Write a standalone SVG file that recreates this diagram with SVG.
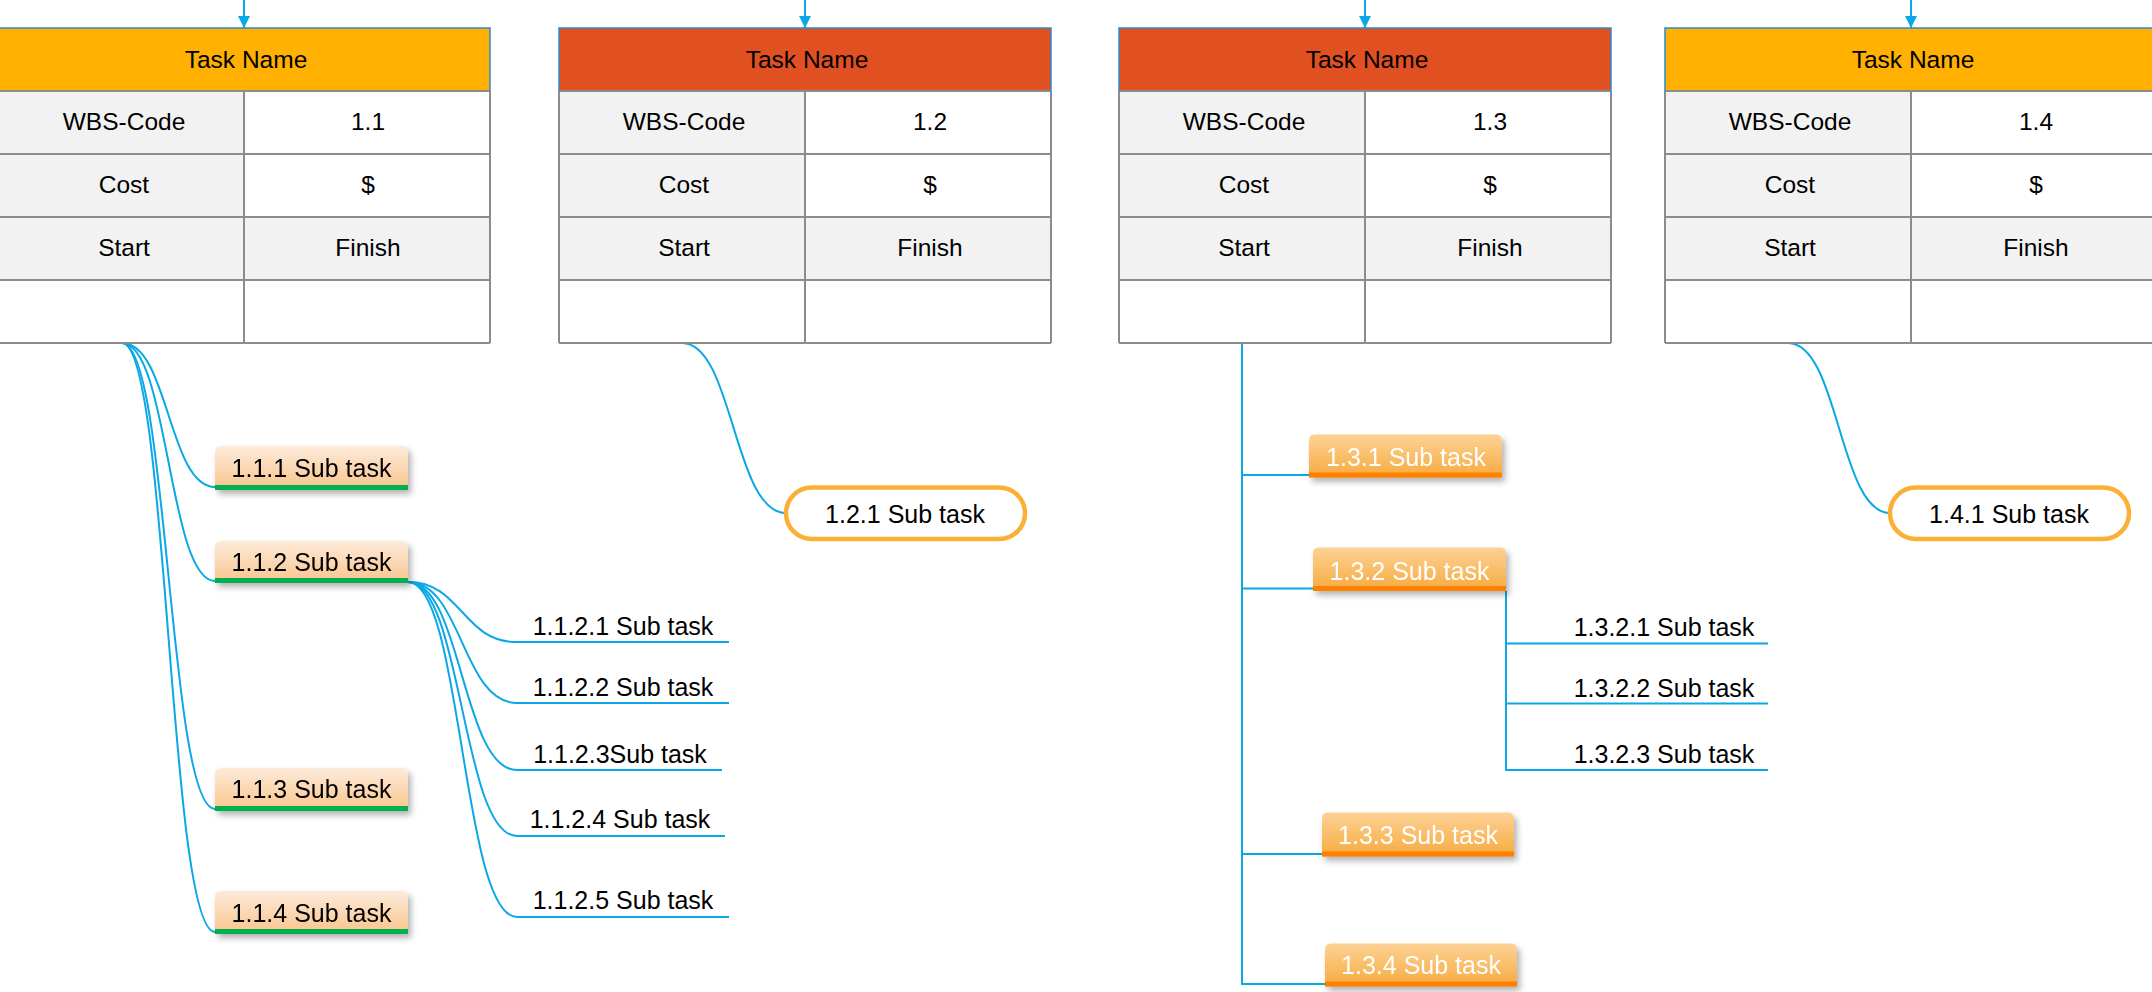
<svg xmlns="http://www.w3.org/2000/svg" width="2152" height="992" viewBox="0 0 2152 992">
<style>
text{font-family:"Liberation Sans",Arial,sans-serif;font-size:24.5px;fill:#000;text-anchor:middle}
.sub2{font-size:25px}
.bx{font-size:25px}
.wt{fill:#fff}
.hdrO{fill:#FFB000}
.hdrR{fill:#E15020}
.g{fill:#F2F2F2}
.w{fill:#fff}
.grid{stroke:#8C8C8C;stroke-width:2;fill:none}
.hb{stroke:#2A8AD4;stroke-width:1.5;fill:none}
.con{stroke:#0AA8E6;stroke-width:2;fill:none}
.pill{fill:#fff;stroke:#FBB034;stroke-width:4.5}
.pb{fill:url(#peach)}
.ob{fill:url(#orng)}
.gbar{fill:#00B050}
.obar{fill:#FF8000}
.sh{filter:url(#shadow)}
</style>
<defs>
<linearGradient id="peach" x1="0" y1="0" x2="0" y2="1"><stop offset="0" stop-color="#FDEBDA"/><stop offset="1" stop-color="#F9C48C"/></linearGradient>
<linearGradient id="orng" x1="0" y1="0" x2="0" y2="1"><stop offset="0" stop-color="#FDD296"/><stop offset="1" stop-color="#F6AA3E"/></linearGradient>
<filter id="shadow" x="-10%" y="-20%" width="130%" height="160%"><feDropShadow dx="3" dy="4" stdDeviation="3" flood-color="#000" flood-opacity="0.3"/></filter>
<marker id="arr" viewBox="0 0 12 12" refX="12" refY="6" markerWidth="12" markerHeight="12" markerUnits="userSpaceOnUse" orient="auto"><path d="M0,0 L12,6 L0,12 Z" fill="#0AA8E6"/></marker>
</defs>
<rect width="2152" height="992" fill="#fff"/>

<g id="connectors">
<path class="con" d="M244,0 V28" marker-end="url(#arr)"/>
<path class="con" d="M805,0 V28" marker-end="url(#arr)"/>
<path class="con" d="M1365,0 V28" marker-end="url(#arr)"/>
<path class="con" d="M1911,0 V28" marker-end="url(#arr)"/>
<path class="con" d="M122,343 C168.5,343 168.5,487 215,487"/>
<path class="con" d="M122,343 C168.5,343 168.5,581 215,581"/>
<path class="con" d="M122,343 C168.5,343 168.5,809 215,809"/>
<path class="con" d="M122,343 C168.5,343 168.5,932 215,932"/>
<path class="con" d="M408,582 C462,582 462,642 517,642 H729"/>
<path class="con" d="M408,582 C462,582 462,703 517,703 H729"/>
<path class="con" d="M408,582 C462,582 462,770 517,770 H722"/>
<path class="con" d="M408,582 C462,582 462,836 517,836 H725"/>
<path class="con" d="M408,582 C462,582 462,917 517,917 H729"/>
<path class="con" d="M682,343 C733.5,343 733.5,513 786,513"/>
<path class="con" d="M1788,343 C1839,343 1839,513 1890,513"/>
<path class="con" d="M1242,343 V984 H1325"/>
<path class="con" d="M1242,475 H1309"/>
<path class="con" d="M1242,588.5 H1313"/>
<path class="con" d="M1242,854 H1322"/>
<path class="con" d="M1506,591 V770 H1768"/>
<path class="con" d="M1506,643.5 H1768"/>
<path class="con" d="M1506,703.5 H1768"/>
</g>

<g id="task-1-1">
<rect class="hdrO" x="-2" y="28" width="492" height="63"/>
<rect class="g" x="-2" y="91" width="246" height="189"/>
<rect class="w" x="244" y="91" width="246" height="126"/>
<rect class="g" x="244" y="217" width="246" height="63"/>
<rect class="w" x="-2" y="280" width="492" height="63"/>
<path class="grid" d="M-2,91 H490 M-2,154 H490 M-2,217 H490 M-2,280 H490 M-2,343 H490 M244,91 V343 M-2,91 V343 M490,91 V343"/>
<path class="hb" d="M-2,91 V28 H490 V91"/>
<text x="246" y="68">Task Name</text>
<text x="124" y="130">WBS-Code</text><text x="368" y="130">1.1</text>
<text x="124" y="193">Cost</text><text x="368" y="193">$</text>
<text x="124" y="256">Start</text><text x="368" y="256">Finish</text>
</g>

<g id="task-1-2">
<rect class="hdrR" x="559" y="28" width="492" height="63"/>
<rect class="g" x="559" y="91" width="246" height="189"/>
<rect class="w" x="805" y="91" width="246" height="126"/>
<rect class="g" x="805" y="217" width="246" height="63"/>
<rect class="w" x="559" y="280" width="492" height="63"/>
<path class="grid" d="M559,91 H1051 M559,154 H1051 M559,217 H1051 M559,280 H1051 M559,343 H1051 M805,91 V343 M559,91 V343 M1051,91 V343"/>
<path class="hb" d="M559,91 V28 H1051 V91"/>
<text x="807" y="68">Task Name</text>
<text x="684" y="130">WBS-Code</text><text x="930" y="130">1.2</text>
<text x="684" y="193">Cost</text><text x="930" y="193">$</text>
<text x="684" y="256">Start</text><text x="930" y="256">Finish</text>
</g>

<g id="task-1-3">
<rect class="hdrR" x="1119" y="28" width="492" height="63"/>
<rect class="g" x="1119" y="91" width="246" height="189"/>
<rect class="w" x="1365" y="91" width="246" height="126"/>
<rect class="g" x="1365" y="217" width="246" height="63"/>
<rect class="w" x="1119" y="280" width="492" height="63"/>
<path class="grid" d="M1119,91 H1611 M1119,154 H1611 M1119,217 H1611 M1119,280 H1611 M1119,343 H1611 M1365,91 V343 M1119,91 V343 M1611,91 V343"/>
<path class="hb" d="M1119,91 V28 H1611 V91"/>
<text x="1367" y="68">Task Name</text>
<text x="1244" y="130">WBS-Code</text><text x="1490" y="130">1.3</text>
<text x="1244" y="193">Cost</text><text x="1490" y="193">$</text>
<text x="1244" y="256">Start</text><text x="1490" y="256">Finish</text>
</g>

<g id="task-1-4">
<rect class="hdrO" x="1665" y="28" width="492" height="63"/>
<rect class="g" x="1665" y="91" width="246" height="189"/>
<rect class="w" x="1911" y="91" width="246" height="126"/>
<rect class="g" x="1911" y="217" width="246" height="63"/>
<rect class="w" x="1665" y="280" width="492" height="63"/>
<path class="grid" d="M1665,91 H2157 M1665,154 H2157 M1665,217 H2157 M1665,280 H2157 M1665,343 H2157 M1911,91 V343 M1665,91 V343 M2157,91 V343"/>
<path class="hb" d="M1665,91 V28 H2157 V91"/>
<text x="1913" y="68">Task Name</text>
<text x="1790" y="130">WBS-Code</text><text x="2036" y="130">1.4</text>
<text x="1790" y="193">Cost</text><text x="2036" y="193">$</text>
<text x="1790" y="256">Start</text><text x="2036" y="256">Finish</text>
</g>

<g id="sub-1-1-1" class="sh">
<path class="pb" d="M215,490 V452 Q215,446 221,446 H402 Q408,446 408,452 V490 Z"/>
<rect class="gbar" x="215" y="485" width="193" height="5"/>
<text class="bx" x="311.5" y="477">1.1.1 Sub task</text>
</g>
<g id="sub-1-1-2" class="sh">
<path class="pb" d="M215,583 V547 Q215,541 221,541 H402 Q408,541 408,547 V583 Z"/>
<rect class="gbar" x="215" y="578" width="193" height="5"/>
<text class="bx" x="311.5" y="571">1.1.2 Sub task</text>
</g>
<g id="sub-1-1-3" class="sh">
<path class="pb" d="M215,811 V774 Q215,768 221,768 H402 Q408,768 408,774 V811 Z"/>
<rect class="gbar" x="215" y="806" width="193" height="5"/>
<text class="bx" x="311.5" y="798">1.1.3 Sub task</text>
</g>
<g id="sub-1-1-4" class="sh">
<path class="pb" d="M215,934 V897 Q215,891 221,891 H402 Q408,891 408,897 V934 Z"/>
<rect class="gbar" x="215" y="929" width="193" height="5"/>
<text class="bx" x="311.5" y="922">1.1.4 Sub task</text>
</g>

<g id="sub-1-1-2-1"><text class="sub2" x="623" y="635">1.1.2.1 Sub task</text></g>
<g id="sub-1-1-2-2"><text class="sub2" x="623" y="696">1.1.2.2 Sub task</text></g>
<g id="sub-1-1-2-3"><text class="sub2" x="620" y="763">1.1.2.3Sub task</text></g>
<g id="sub-1-1-2-4"><text class="sub2" x="620" y="828">1.1.2.4 Sub task</text></g>
<g id="sub-1-1-2-5"><text class="sub2" x="623" y="909">1.1.2.5 Sub task</text></g>

<g id="sub-1-2-1">
<rect class="pill" x="786" y="487.5" width="239" height="51.5" rx="25.75"/>
<text class="bx" x="905" y="522.5">1.2.1 Sub task</text>
</g>

<g id="sub-1-4-1">
<rect class="pill" x="1890" y="487.5" width="239" height="51.5" rx="25.75"/>
<text class="bx" x="2009" y="522.5">1.4.1 Sub task</text>
</g>

<g id="sub-1-3-1" class="sh">
<path class="ob" d="M1309,477.5 V440.5 Q1309,434.5 1315,434.5 H1496 Q1502,434.5 1502,440.5 V477.5 Z"/>
<rect class="obar" x="1309" y="472.5" width="193" height="5"/>
<text class="wt bx" x="1406" y="466">1.3.1 Sub task</text>
</g>
<g id="sub-1-3-2" class="sh">
<path class="ob" d="M1313,591 V553.5 Q1313,547.5 1319,547.5 H1500 Q1506,547.5 1506,553.5 V591 Z"/>
<rect class="obar" x="1313" y="586" width="193" height="5"/>
<text class="wt bx" x="1409.5" y="579.5">1.3.2 Sub task</text>
</g>
<g id="sub-1-3-3" class="sh">
<path class="ob" d="M1322,856.5 V818.5 Q1322,812.5 1328,812.5 H1508 Q1514,812.5 1514,818.5 V856.5 Z"/>
<rect class="obar" x="1322" y="851.5" width="192" height="5"/>
<text class="wt bx" x="1418" y="843.5">1.3.3 Sub task</text>
</g>
<g id="sub-1-3-4" class="sh">
<path class="ob" d="M1325,986.5 V949.5 Q1325,943.5 1331,943.5 H1511 Q1517,943.5 1517,949.5 V986.5 Z"/>
<rect class="obar" x="1325" y="981.5" width="192" height="5"/>
<text class="wt bx" x="1421" y="974">1.3.4 Sub task</text>
</g>

<g id="sub-1-3-2-1"><text class="sub2" x="1664" y="636">1.3.2.1 Sub task</text></g>
<g id="sub-1-3-2-2"><text class="sub2" x="1664" y="697">1.3.2.2 Sub task</text></g>
<g id="sub-1-3-2-3"><text class="sub2" x="1664" y="763">1.3.2.3 Sub task</text></g>
</svg>
